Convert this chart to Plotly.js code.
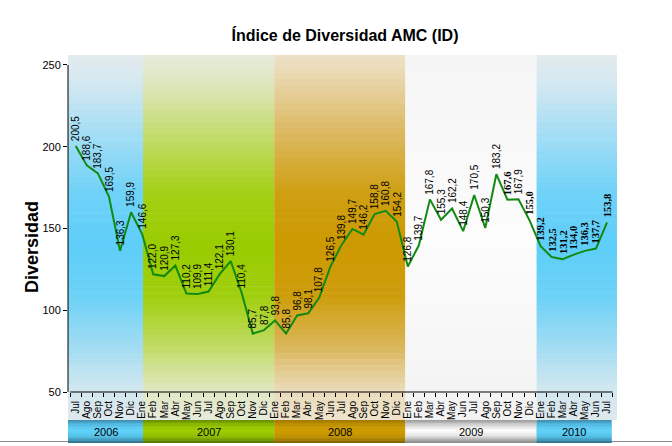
<!DOCTYPE html>
<html><head><meta charset="utf-8">
<script src="https://cdn.plot.ly/plotly-3.0.1.min.js"></script>
<style>html,body{margin:0;padding:0;background:#fff;}#chart{width:672px;height:446px;}</style>
</head><body><div id="chart"></div>
<script>
// ---------- DATA ----------
const months = ['Jul','Ago','Sep','Oct','Nov','Dic',
  'Ene','Feb','Mar','Abr','May','Jun','Jul','Ago','Sep','Oct','Nov','Dic',
  'Ene','Feb','Mar','Abr','May','Jun','Jul','Ago','Sep','Oct','Nov','Dic',
  'Ene','Feb','Mar','Abr','May','Jun','Jul','Ago','Sep','Oct','Nov','Dic',
  'Ene','Feb','Mar','Abr','May','Jun','Jul'];
const diversidad = [200.5,188.6,183.7,169.5,136.3,159.9,
  146.6,122.0,120.9,127.3,110.2,109.9,111.4,122.1,130.1,110.4,85.7,87.8,
  93.8,85.8,96.8,98.1,107.8,126.5,139.8,149.7,146.2,158.8,160.8,154.2,
  126.8,139.7,167.8,155.3,162.2,148.4,170.5,150.3,183.2,167.6,167.9,155.0,
  139.2,132.5,131.2,134.0,136.3,137.7,153.8];
const years = ['2006','2007','2008','2009','2010'];
const yTicks = [50,100,150,200,250];

// ---------- STYLE ----------
const boldLabelIdx = [39,41,42,43,44,45,46,47,48];
const plotL = 68, plotT = 55, plotW = 549, plotH = 337;
const W = 672, H = 446;
const bandBottomPx = 420, barTopPx = 420, barBotPx = 443;
const toPaperY = px => (plotT + plotH - px) / plotH;
const xMin = -0.7, xMax = 48.9;

const bandStops = {
  blue:  [[0,'#e4ebee'],[0.08,'#d3e8f1'],[0.22,'#a3ddf4'],[0.38,'#6fd2f8'],[0.52,'#5ecef8'],[0.66,'#6cd2f7'],[0.8,'#a2dcf2'],[0.92,'#d3e8f0'],[1,'#dfe9ee']],
  green: [[0,'#e7ebdb'],[0.08,'#dde6bd'],[0.22,'#c3dc6c'],[0.38,'#a3d014'],[0.52,'#99cc00'],[0.66,'#a0cf0e'],[0.8,'#c1db66'],[0.92,'#e0e8c3'],[1,'#e8ebdb']],
  gold:  [[0,'#ede2c8'],[0.08,'#e7d3a4'],[0.22,'#dbb75c'],[0.38,'#cf9f12'],[0.52,'#cc9900'],[0.66,'#ce9d0c'],[0.8,'#dab65a'],[0.92,'#eadcbc'],[1,'#eee3cc']],
  white: [[0,'#f5f5f5'],[0.5,'#fcfcfc'],[1,'#f2f2f2']]
};
const barStops = {
  blue:  [[0,'#3f88a8'],[0.15,'#4eb5dd'],[0.45,'#62d3fa'],[0.7,'#55c4ec'],[0.88,'#3d93b4'],[1,'#2d6a84']],
  green: [[0,'#648800'],[0.15,'#86b300'],[0.45,'#9dd000'],[0.7,'#90c000'],[0.88,'#6f9500'],[1,'#526e00']],
  gold:  [[0,'#9c7600'],[0.15,'#bb8e00'],[0.45,'#d09d00'],[0.7,'#c39400'],[0.88,'#a07900'],[1,'#7a5c00']],
  white: [[0,'#969696'],[0.15,'#c6c6c6'],[0.45,'#ffffff'],[0.7,'#e2e2e2'],[0.88,'#a6a6a6'],[1,'#858585']]
};
const yearTheme = ['blue','green','gold','white','blue'];

function hex2rgb(h){return [parseInt(h.slice(1,3),16),parseInt(h.slice(3,5),16),parseInt(h.slice(5,7),16)];}
function colorAt(stops,t){
  for(let k=0;k<stops.length-1;k++){
    const [t0,c0]=stops[k],[t1,c1]=stops[k+1];
    if(t<=t1){const f=(t-t0)/(t1-t0||1);const a=hex2rgb(c0),b=hex2rgb(c1);
      return 'rgb('+a.map((v,j)=>Math.round(v+(b[j]-v)*f)).join(',')+')';}
  }
  return stops[stops.length-1][1];
}

// year segments derived from month names
const yearOfMonth = [];
let yi = 0;
months.forEach((m,i)=>{ if(m==='Ene' && i>0) yi++; yearOfMonth.push(yi); });
const eneIdx = months.map((m,i)=>m==='Ene'?i:-1).filter(i=>i>0);
const edges = [xMin].concat(eneIdx.map(i=>i*0.9877+0.15));
const bandEdges = edges.concat([xMax]);
const barEdges = edges.concat([months.length-1+0.42]);

const shapes = [];
function gradRect(x0,x1,pxTop,pxBot,stops,n){
  const step=(pxBot-pxTop)/n;
  for(let s=0;s<n;s++){
    const a=pxTop+s*step,b=pxTop+(s+1)*step+0.6;
    shapes.push({type:'rect',xref:'x',yref:'paper',x0:x0,x1:x1,
      y0:toPaperY(Math.min(b,pxBot)),y1:toPaperY(a),
      fillcolor:colorAt(stops,(s+0.5)/n),line:{width:0},layer:'below'});
  }
}
// grey rule across the bottom
shapes.push({type:'line',xref:'paper',yref:'paper',x0:-plotL/plotW,x1:(W-plotL)/plotW,
  y0:toPaperY(441.5),y1:toPaperY(441.5),line:{color:'#8a8a8a',width:1.2},layer:'below'});
years.forEach((y,k)=>{
  gradRect(bandEdges[k],bandEdges[k+1],plotT,bandBottomPx,bandStops[yearTheme[k]],60);
  gradRect(barEdges[k],barEdges[k+1],barTopPx,barBotPx,barStops[yearTheme[k]],16);
});
// axis lines
shapes.push({type:'line',xref:'x',yref:'paper',x0:-0.5,x1:months.length-0.5,y0:0,y1:0,line:{color:'#000',width:1},layer:'above'});
shapes.push({type:'line',xref:'paper',yref:'y',x0:0,x1:0,y0:yTicks[0],y1:yTicks[yTicks.length-1],line:{color:'#000',width:1},layer:'above'});

const annotations = [];
diversidad.forEach((v,i)=>{
  const bold = boldLabelIdx.includes(i);
  annotations.push({x:i,y:v,xref:'x',yref:'y',showarrow:false,textangle:-90,
    text: v.toFixed(1).replace('.',','),
    xanchor:'center',yanchor:'bottom',yshift:3,
    font: bold ? {family:'Liberation Serif, Times New Roman, serif',size:10.5,color:'#000',weight:'bold'}
               : {family:'Liberation Sans, Arial, sans-serif',size:10,color:'#000'}});
});
years.forEach((y,k)=>{
  annotations.push({x:(barEdges[k]+barEdges[k+1])/2,y:toPaperY((barTopPx+barBotPx)/2),xref:'x',yref:'paper',
    showarrow:false,text:y,xanchor:'center',yanchor:'middle',
    font:{family:'Liberation Sans, Arial, sans-serif',size:11,color:'#000'}});
});
annotations.push({x:(32-plotL)/plotW,y:toPaperY(247),xref:'paper',yref:'paper',showarrow:false,
  text:'<b>Diversidad</b>',textangle:-90,xanchor:'center',yanchor:'middle',
  font:{family:'Liberation Sans, Arial, sans-serif',size:18,color:'#000'}});

const trace = {x:months.map((m,i)=>i),y:diversidad,type:'scatter',mode:'lines',
  line:{color:'#128a12',width:2},hoverinfo:'skip'};

const layout = {
  width:W,height:H,margin:{l:plotL,r:W-plotL-plotW,t:plotT,b:H-plotT-plotH,pad:0},
  paper_bgcolor:'#fff',plot_bgcolor:'rgba(0,0,0,0)',showlegend:false,
  title:{text:'<b>Índice de Diversidad AMC (ID)</b>',x:345/W,xanchor:'center',y:1-35/H,yanchor:'middle',
    font:{family:'Liberation Sans, Arial, sans-serif',size:16,color:'#000'}},
  xaxis:{type:'linear',range:[xMin,xMax],tickmode:'array',tickvals:months.map((m,i)=>i),ticktext:months,
    tickangle:-90,tickfont:{family:'Liberation Sans, Arial, sans-serif',size:10,color:'#000'},
    ticks:'outside',ticklen:4,tickcolor:'rgba(0,0,0,0)',showgrid:false,zeroline:false,showline:false,
    minor:{tickmode:'array',tickvals:months.map((m,i)=>i-0.5).concat([months.length-0.5]),ticks:'outside',ticklen:4,tickcolor:'#000',tickwidth:1,showgrid:false}},
  yaxis:{range:[50,256.1],tickmode:'array',tickvals:yTicks,ticks:'outside',ticklen:4,tickcolor:'#000',
    tickfont:{family:'Liberation Sans, Arial, sans-serif',size:11,color:'#000'},
    showgrid:false,zeroline:false,showline:false},
  shapes:shapes,annotations:annotations
};
Plotly.newPlot('chart',[trace],layout,{staticPlot:true,displayModeBar:false});
</script></body></html>
